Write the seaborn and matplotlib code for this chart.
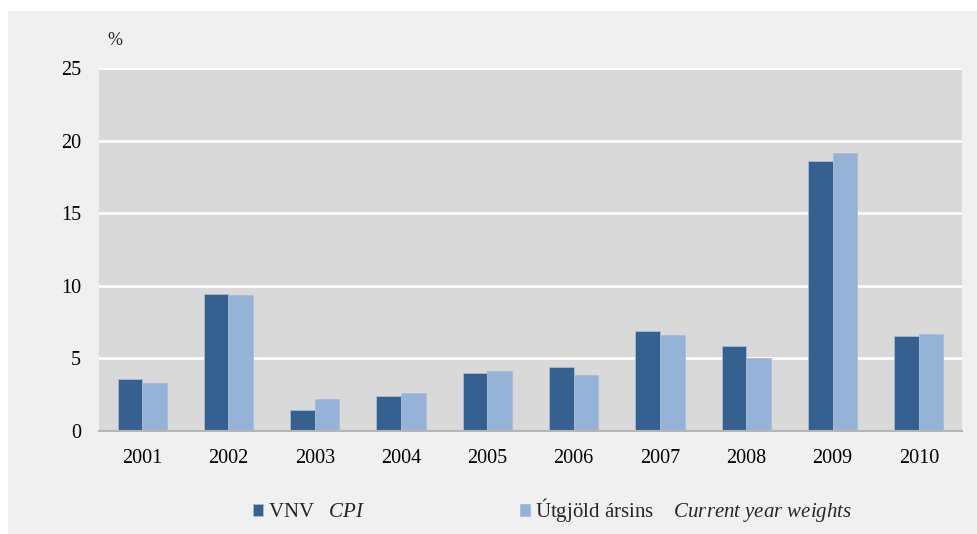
import matplotlib
matplotlib.use("Agg")
import matplotlib.pyplot as plt
import matplotlib.patches as mpatches
import seaborn as sns
import pandas as pd

# Data
years = ["2001", "2002", "2003", "2004", "2005", "2006", "2007", "2008", "2009", "2010"]
vnv_cpi = [3.58, 9.43, 1.45, 2.39, 4.0, 4.4, 6.86, 5.83, 18.6, 6.57]
current_weights = [3.3, 9.35, 2.2, 2.6, 4.1, 3.85, 6.6, 5.03, 19.12, 6.68]
yticks = [0, 5, 10, 15, 20, 25]

label_vnv = r"VNV   $\it{CPI}$"
label_cur = r"Útgjöld ársins    $\it{Current\ year\ weights}$"

df = pd.DataFrame({
    "year": years * 2,
    "value": vnv_cpi + current_weights,
    "series": [label_vnv] * len(years) + [label_cur] * len(years),
})

sns.set_theme(style="white")
plt.rcParams["font.family"] = ["Liberation Serif", "DejaVu Serif"]
plt.rcParams["mathtext.fontset"] = "custom"
plt.rcParams["mathtext.rm"] = "Liberation Serif"
plt.rcParams["mathtext.it"] = "Liberation Serif:italic"

dark = "#36608f"
light = "#95b3d7"

fig = plt.figure(figsize=(9.78, 5.34), dpi=100, facecolor="white")
fig.patches.append(mpatches.Rectangle((8 / 978, 0), 1, (534 - 11) / 534,
                                      transform=fig.transFigure, facecolor="#f0f0f0",
                                      edgecolor="none", zorder=-10))
ax = fig.add_axes([99 / 978, (534 - 431) / 534, (962 - 99) / 978, (431 - 68) / 534])
ax.set_facecolor("#d9d9d9")

sns.barplot(data=df, x="year", y="value", hue="series", ax=ax,
            palette=[dark, light], saturation=1, width=0.57, gap=0, legend=True,
            edgecolor="#a9bcd6", linewidth=0.6, zorder=3)

ax.set_ylim(0, 25)
ax.set_yticks(yticks)
ax.set_xlim(-0.5, len(years) - 0.5)
ax.yaxis.grid(True, color="white", linewidth=2, zorder=1)
ax.set_axisbelow(True)
for s in ["top", "right", "left"]:
    ax.spines[s].set_visible(False)
ax.spines["bottom"].set_color("#b5b5b5")
ax.spines["bottom"].set_linewidth(1.5)
ax.spines["bottom"].set_zorder(4)
ax.tick_params(axis="both", length=0, labelsize=14.5, labelcolor="black")
ax.tick_params(axis="y", pad=13)
ax.tick_params(axis="x", pad=13)
ax.set_xlabel("")
ax.set_ylabel("")

ax.text(0.01, 1.075, "%", transform=ax.transAxes, fontsize=13, ha="left", va="center")

handles, labels = ax.get_legend_handles_labels()
ax.get_legend().remove()
fig.legend(handles, labels, loc="center", bbox_to_anchor=(0.565, 24 / 534), ncol=2,
           frameon=False, fontsize=15, handlelength=0.5, handleheight=0.5,
           handletextpad=0.25, columnspacing=7.4)

fig.savefig("out.png", dpi=100, facecolor="white")
